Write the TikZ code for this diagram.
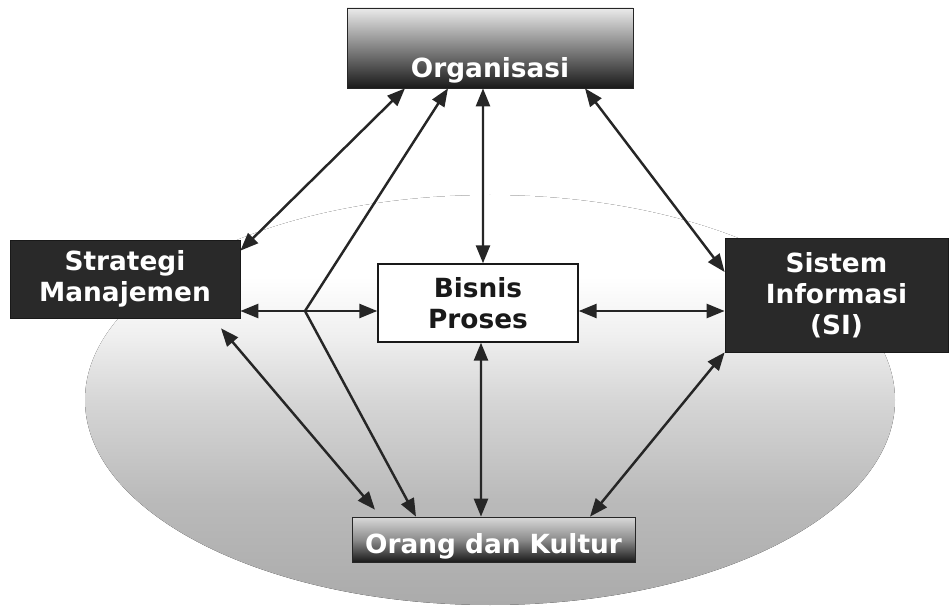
\documentclass[tikz,border=0pt]{standalone}
\usepackage{fontspec}
\setmainfont{DejaVu Sans}
\usepackage{tikz}
\usetikzlibrary{arrows.meta,calc}

\newcommand{\boxfont}{\bfseries\fontsize{15}{17.5}\selectfont}

% grey oval, darker at the bottom, fading out towards the top
\pgfdeclareverticalshading{ovalfade}{100bp}{color(0bp)=(black!33); color(25bp)=(black!33); color(38bp)=(black!27); color(50bp)=(black!16); color(58bp)=(black!6); color(65bp)=(white); color(100bp)=(white)}

\begin{document}
\begin{tikzpicture}[
  >={Triangle[length=0.36cm,width=0.28cm]},
  darkbox/.style={draw=black!90,fill=black!84,text=white,font=\boxfont,align=center,inner sep=0pt},
  fadebox/.style={draw=black!85,top color=black!8,middle color=black!35,bottom color=black!90,text=white,font=\boxfont,inner sep=0pt},
  whitebox/.style={draw=black!90,line width=0.8pt,fill=white,text=black!90,font=\boxfont,align=center,inner sep=0pt},
  link/.style={line width=1.4pt,draw=black!85,<->},
  branch/.style={line width=1.4pt,draw=black!85,->}
]

\useasboundingbox (0,0) rectangle (18.98,12.2);

% ---------------- BACKGROUND ----------------

\fill[shading=ovalfade] (9.8,4.2) ellipse [x radius=8.1, y radius=4.1];

% ---------------- BOXES ----------------

\node[fadebox,minimum width=5.72cm,text height=1.4cm,text depth=0.2cm] (org) at (9.8,11.24) {Organisasi};
\node[darkbox,minimum width=4.6cm,minimum height=1.56cm] (strat) at (2.5,6.62) {Strategi\\Manajemen};
\node[whitebox,minimum width=4cm,minimum height=1.56cm] (bis) at (9.56,6.14) {Bisnis\\Proses};
\node[darkbox,minimum width=4.46cm,minimum height=2.28cm] (si) at (16.73,6.3) {Sistem\\Informasi\\(SI)};
\node[fadebox,top color=black!15,middle color=black!45,minimum width=5.66cm,text height=0.72cm,text depth=0.18cm] (orang) at (9.87,1.41) {Orang dan Kultur};

\coordinate (j) at (6.1,5.98);

% ---------------- CONNECTIONS ----------------

\draw[link] ($(org.south)+(-1.7,0)$) -- ($(strat.north east)+(0,-0.22)$);
\draw[link] ($(org.south)+(-0.14,0)$) -- ($(bis.north)+(0.1,0)$);
\draw[link] ($(org.south)+(1.9,0)$) -- ($(si.west)+(0,0.46)$);

\draw[link] (strat.east |- j) -- (bis.west |- j);
\draw[link] (bis.east |- j) -- (si.west |- j);

\draw[link] ($(strat.south)+(1.92,-0.2)$) -- ($(orang.north)+(-2.37,0.14)$);
\draw[link] ($(bis.south)+(0.06,0)$) -- ($(orang.north)+(-0.25,0)$);
\draw[link] (si.south west) -- ($(orang.north)+(1.93,0)$);

% ---------------- BRANCH ----------------

\draw[branch] (j) -- ($(org.south)+(-0.84,0)$);
\draw[branch] (j) -- ($(orang.north)+(-1.55,0)$);

\end{tikzpicture}
\end{document}
